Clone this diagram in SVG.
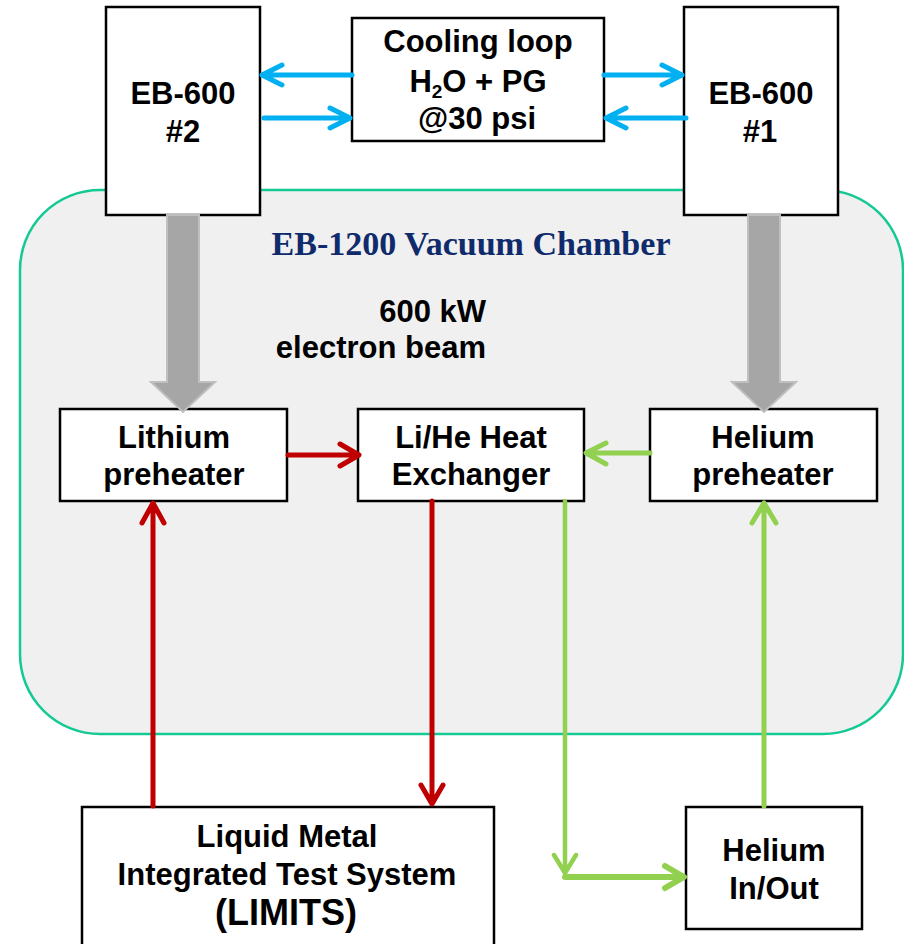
<svg xmlns="http://www.w3.org/2000/svg" width="904" height="944" viewBox="0 0 904 944">
<style>
.box{fill:#fff;stroke:#000;stroke-width:2.5}
.t{font-family:"Liberation Sans",Arial,sans-serif;font-weight:bold;font-size:31px;fill:#000;text-anchor:middle}
.blue{stroke:#00b0f0;stroke-width:5;fill:none;stroke-linecap:round;stroke-linejoin:round}
.red{stroke:#c00000;stroke-width:5;fill:none;stroke-linecap:round;stroke-linejoin:round}
.green{stroke:#92d050;stroke-width:5;fill:none;stroke-linecap:round;stroke-linejoin:round}
.beam{fill:#a6a6a6;stroke:#bfbfbf;stroke-width:2}
</style>
<rect width="904" height="944" fill="#fff"/>
<g id="chamber">
<rect x="20" y="190" width="883" height="544" rx="80" ry="80" fill="#f0f0f0" stroke="#14c994" stroke-width="2.5"/>
<text x="471" y="255" font-family="'Liberation Serif','Times New Roman',serif" font-weight="bold" font-size="33" fill="#0f2b6b" text-anchor="middle" textLength="399" lengthAdjust="spacingAndGlyphs">EB-1200 Vacuum Chamber</text>
</g>
<g id="eb600-2">
<rect class="box" x="106" y="7" width="154" height="208"/>
<text class="t" x="183" y="104">EB-600</text>
<text class="t" x="183" y="142">#2</text>
</g>
<g id="eb600-1">
<rect class="box" x="684" y="7" width="154" height="208"/>
<text class="t" x="761" y="104">EB-600</text>
<text class="t" x="760" y="142">#1</text>
</g>
<g id="cooling">
<rect class="box" x="352" y="18" width="252" height="123"/>
<text class="t" x="478" y="52">Cooling loop</text>
<text class="t" x="478" y="92">H<tspan font-size="19" dy="6">2</tspan><tspan dy="-6">O + PG</tspan></text>
<text class="t" x="477" y="129">@30 psi</text>
</g>
<g id="beam-label">
<text class="t" x="486" y="322" style="text-anchor:end">600 kW</text>
<text class="t" x="486" y="358" style="text-anchor:end">electron beam</text>
</g>
<g id="li-pre">
<rect class="box" x="60" y="409" width="227" height="92"/>
<text class="t" x="174" y="448">Lithium</text>
<text class="t" x="174" y="485">preheater</text>
</g>
<g id="hx">
<rect class="box" x="358" y="409" width="226" height="92"/>
<text class="t" x="471" y="448">Li/He Heat</text>
<text class="t" x="471" y="485">Exchanger</text>
</g>
<g id="he-pre">
<rect class="box" x="650" y="409" width="227" height="92"/>
<text class="t" x="763" y="448">Helium</text>
<text class="t" x="763" y="485">preheater</text>
</g>
<g id="limits">
<rect class="box" x="82" y="807" width="412" height="150"/>
<text class="t" x="287" y="847">Liquid Metal</text>
<text class="t" x="287" y="885">Integrated Test System</text>
<text class="t" x="286" y="925" style="font-size:36px">(LIMITS)</text>
</g>
<g id="he-io">
<rect class="box" x="686" y="807" width="176" height="122"/>
<text class="t" x="774" y="861">Helium</text>
<text class="t" x="774" y="899">In/Out</text>
</g>
<g id="connectors">
<path class="beam" d="M167,215 V382 H151 L183,412 L215,382 H199 V215 Z"/>
<path class="beam" d="M748,215 V382 H732 L764,412 L796,382 H780 V215 Z"/>
<path class="blue" d="M352,75 H262 M282,65 L262,75 L282,85"/>
<path class="blue" d="M264,118 H350 M330,108 L350,118 L330,128"/>
<path class="blue" d="M604,75 H682 M662,65 L682,75 L662,85"/>
<path class="blue" d="M686,118 H606 M626,108 L606,118 L626,128"/>
<path class="red" d="M288,455 H358 M340,444 L359,455 L340,466"/>
<path class="red" d="M153,806 V504 M142,523 L153,503 L164,523"/>
<path class="red" d="M432,501 V803 M421,785 L432,804 L443,785"/>
<path class="green" d="M650,453 H587 M606,443 L586,453 L606,464"/>
<path class="green" d="M565,501 V872 M554,855 L565,873 L576,855" style="stroke-width:4.5"/>
<path class="green" d="M565,877 H683 M665,866 L684,877 L665,888" style="stroke-width:6"/>
<path class="green" d="M764,806 V504 M752,523 L764,503 L776,523"/>
</g>
</svg>
